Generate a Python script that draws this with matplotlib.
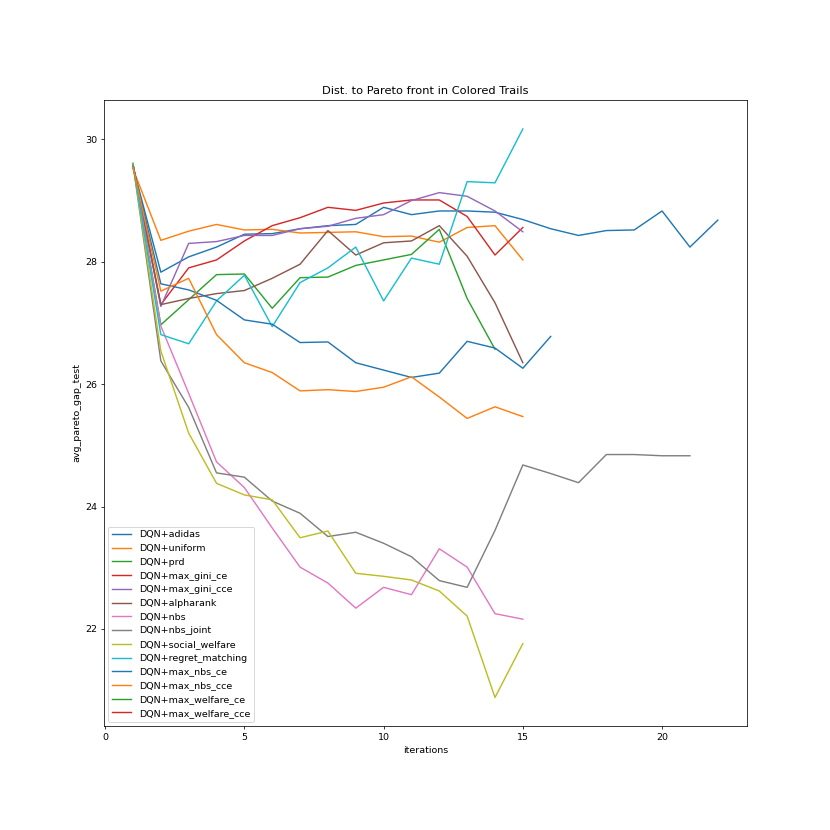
import matplotlib
matplotlib.use("Agg")
import matplotlib.pyplot as plt

# data
it15 = list(range(1, 16))
it16 = list(range(1, 17))
it21 = list(range(1, 22))
it22 = list(range(1, 23))

adidas = [29.55, 27.83, 28.08, 28.24, 28.45, 28.46, 28.54, 28.59, 28.61, 28.89, 28.77,
          28.83, 28.83, 28.81, 28.69, 28.54, 28.43, 28.51, 28.52, 28.83, 28.24, 28.68]
uniform = [29.52, 28.35, 28.50, 28.61, 28.52, 28.53, 28.47, 28.48, 28.49, 28.41, 28.42,
           28.32, 28.56, 28.59, 28.03]
prd = [29.61, 26.97, 27.38, 27.79, 27.80, 27.24, 27.74, 27.75, 27.94, 28.03, 28.12,
       28.53, 27.40, 26.57]
max_gini_ce = [29.58, 27.30, 27.90, 28.03, 28.34, 28.59, 28.72, 28.89, 28.84, 28.96, 29.01,
               29.01, 28.74, 28.11, 28.56]
max_gini_cce = [29.57, 27.27, 28.30, 28.33, 28.43, 28.43, 28.54, 28.58, 28.71, 28.77, 29.00,
                29.13, 29.07, 28.83, 28.49]
alpharank = [29.59, 27.30, 27.40, 27.48, 27.53, 27.73, 27.96, 28.51, 28.11, 28.31, 28.34,
             28.59, 28.09, 27.33, 26.35]
nbs = [29.58, 26.95, 25.85, 24.73, 24.31, 23.65, 23.01, 22.75, 22.34, 22.68, 22.56,
       23.31, 23.01, 22.25, 22.16]
nbs_joint = [29.60, 26.38, 25.62, 24.55, 24.48, 24.09, 23.89, 23.51, 23.58, 23.40, 23.18,
             22.79, 22.68, 23.61, 24.68, 24.54, 24.39, 24.85, 24.85, 24.83, 24.83]
social_welfare = [29.60, 26.54, 25.20, 24.38, 24.19, 24.11, 23.49, 23.60, 22.91, 22.86, 22.80,
                  22.62, 22.21, 20.88, 21.76]
regret_matching = [29.59, 26.81, 26.66, 27.36, 27.78, 26.94, 27.66, 27.90, 28.24, 27.36, 28.06,
                   27.96, 29.31, 29.29, 30.17]
max_nbs_ce = [29.56, 27.64, 27.54, 27.37, 27.05, 26.98, 26.68, 26.69, 26.35, 26.23, 26.11,
              26.18, 26.70, 26.59, 26.26, 26.78]
max_nbs_cce = [29.55, 27.52, 27.73, 26.81, 26.35, 26.19, 25.89, 25.91, 25.88, 25.95, 26.12,
               25.79, 25.44, 25.63, 25.47]

series = [
    ("DQN+adidas", it22, adidas),
    ("DQN+uniform", it15, uniform),
    ("DQN+prd", it15[:14], prd),
    ("DQN+max_gini_ce", it15, max_gini_ce),
    ("DQN+max_gini_cce", it15, max_gini_cce),
    ("DQN+alpharank", it15, alpharank),
    ("DQN+nbs", it15, nbs),
    ("DQN+nbs_joint", it21, nbs_joint),
    ("DQN+social_welfare", it15, social_welfare),
    ("DQN+regret_matching", it15, regret_matching),
    ("DQN+max_nbs_ce", it16, max_nbs_ce),
    ("DQN+max_nbs_cce", it15, max_nbs_cce),
    ("DQN+max_welfare_ce", [], []),
    ("DQN+max_welfare_cce", [], []),
]

# original was a large figure, shown here at 830 px
size = 12.2
fig, ax = plt.subplots(figsize=(size, size), dpi=830 / size)
fig.subplots_adjust(left=0.125, right=0.9, bottom=0.125, top=0.88)

colors = ["C0", "C1", "C2", "C3", "C4", "C5", "C6", "C7", "C8", "C9",
          "C0", "C1", "C2", "C3"]
for (name, x, y), c in zip(series, colors):
    ax.plot(x, y, color=c, label=name)

ax.set_xlim(-0.05, 23.05)
ax.set_ylim(20.41, 30.65)
ax.set_xticks([0, 5, 10, 15, 20])
ax.set_yticks([22, 24, 26, 28, 30])
ax.set_title("Dist. to Pareto front in Colored Trails")
ax.set_xlabel("iterations")
ax.set_ylabel("avg_pareto_gap_test")
ax.legend(loc="lower left")

fig.savefig("out.png", dpi=830 / size)
